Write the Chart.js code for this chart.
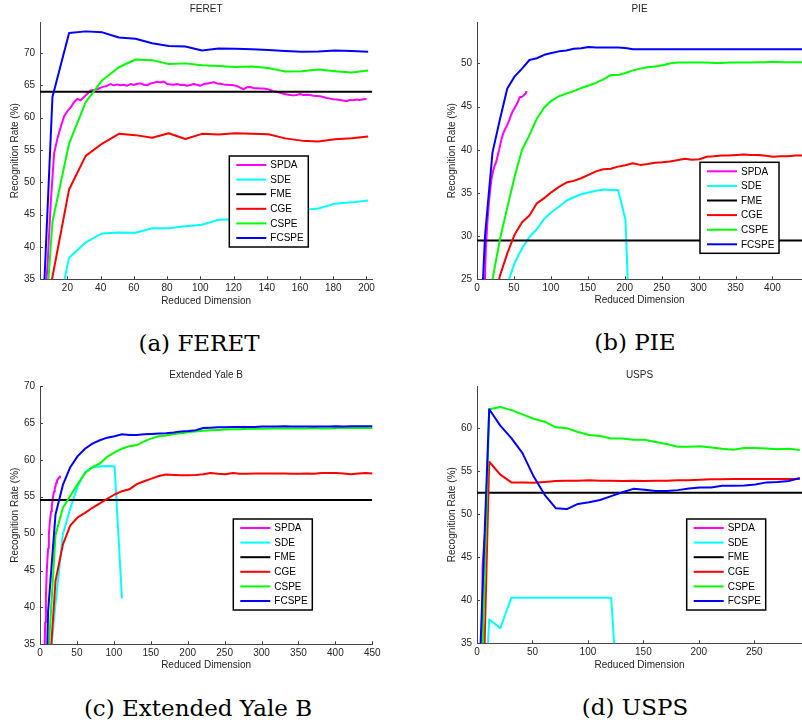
<!DOCTYPE html>
<html>
<head>
<meta charset="utf-8">
<title>Recognition rate vs. reduced dimension</title>
<script src="https://cdn.jsdelivr.net/npm/chart.js@4.4.0/dist/chart.umd.min.js"></script>
<style>
  body { margin: 0; background: #fff; width: 802px; height: 727px; position: relative; overflow: hidden; }
  canvas { position: absolute; }
  .cap { position: absolute; width: 300px; text-align: center; font-family: "DejaVu Serif", serif; font-size: 23px; line-height: 30px; color: #000; }
</style>
</head>
<body>
<canvas id="feret" width="400" height="310" style="left:0px;top:0px"></canvas>
<canvas id="pie" width="365" height="310" style="left:437px;top:0px"></canvas>
<canvas id="yale" width="400" height="311" style="left:0px;top:364px"></canvas>
<canvas id="usps" width="365" height="310" style="left:437px;top:364px"></canvas>
<div class="cap" style="left:49px;top:328px">(a) FERET</div>
<div class="cap" style="left:485px;top:327px">(b) PIE</div>
<div class="cap" style="left:48px;top:693px">(c) Extended Yale B</div>
<div class="cap" style="left:485px;top:692px">(d) USPS</div>
<script>
// ---- FERET ----
const feretDims = [1, 11, 21, 31, 41, 51, 61, 71, 81, 91, 101, 111, 121, 131, 141, 151, 161, 171, 181, 191, 201];
const feretFCSPE = [4.5, 63.2, 73.1, 73.35, 73.2, 72.4, 72.2, 71.5, 71.1, 71.0, 70.4, 70.7, 70.65, 70.6, 70.45, 70.3, 70.2, 70.25, 70.4, 70.3, 70.2];
const feretCSPE = [6.9, 43.9, 56.0, 62.4, 65.8, 67.8, 69.0, 68.9, 68.3, 68.4, 68.1, 68.0, 67.85, 67.9, 67.7, 67.15, 67.2, 67.45, 67.2, 67.0, 67.3];
const feretCGE = [20, 35.4, 48.9, 54.1, 56.0, 57.5, 57.3, 56.9, 57.6, 56.7, 57.5, 57.4, 57.6, 57.5, 57.45, 56.8, 56.45, 56.3, 56.65, 56.8, 57.1];
const feretSDE = [22, 26, 38.35, 40.7, 42.1, 42.25, 42.2, 42.9, 42.9, 43.2, 43.45, 44.2, 44.3, 44.6, 45.0, 45.35, 45.7, 45.95, 46.7, 46.9, 47.2];
const feretFME = 64.0;
const feretSPDADims = [
  6, 8, 10, 12, 14, 16, 18, 20, 22, 24,
  26, 28, 30, 32, 34, 36, 38, 40, 42, 44,
  46, 48, 50, 52, 54, 56, 58, 60, 62, 64,
  66, 68, 70, 72, 74, 76, 78, 80, 82, 84,
  86, 88, 90, 92, 94, 96, 98, 100, 102, 104,
  106, 108, 110, 112, 114, 116, 118, 120, 122, 124,
  126, 128, 130, 132, 134, 136, 138, 140, 142, 144,
  146, 148, 150, 152, 154, 156, 158, 160, 162, 164,
  166, 168, 170, 172, 174, 176, 178, 180, 182, 184,
  186, 188, 190, 192, 194, 196, 198, 200
];
const feretSPDA = [
  30.0, 37.0, 47.0, 54.5, 56.8, 58.6, 60.2, 61.0, 61.6, 62.4,
  62.9, 62.7, 63.2, 63.7, 64.2, 64.3, 64.4, 64.65, 64.8, 64.95,
  65.2, 65.0, 65.15, 65.0, 65.1, 64.95, 65.2, 65.05, 65.25, 65.3,
  65.1, 65.0, 65.3, 65.4, 65.55, 65.45, 65.6, 65.2, 65.15, 65.1,
  65.2, 65.05, 65.1, 64.95, 65.05, 65.2, 65.1, 64.95, 65.2, 65.3,
  65.35, 65.5, 65.3, 65.25, 65.15, 65.1, 65.05, 65.0, 64.9, 64.65,
  64.4, 64.7, 64.75, 64.6, 64.55, 64.5, 64.5, 64.45, 64.3, 64.1,
  64.0, 63.85, 63.7, 63.6, 63.5, 63.45, 63.5, 63.65, 63.5, 63.55,
  63.5, 63.4, 63.35, 63.3, 63.2, 63.05, 62.95, 62.85, 62.8, 62.75,
  62.65, 62.55, 62.75, 62.7, 62.8, 62.75, 62.85, 62.9
];
const feretXRange = [3.5, 203.5];
const feretYRange = [35, 74.8];
const feretXTicks = [20, 40, 60, 80, 100, 120, 140, 160, 180, 200];
const feretYTicks = [35, 40, 45, 50, 55, 60, 65, 70];

// ---- PIE ----
const pieDims = [1, 11, 21, 31, 41, 51, 61, 71, 81, 91, 101, 111, 121, 131, 141, 151, 161, 171, 181, 191,
  201, 211, 221, 231, 241, 251, 261, 271, 281, 291, 301, 311, 321, 331, 341, 351, 361, 371, 381, 391,
  401, 411, 421, 431, 441];
const pieFCSPE = [12.2, 30.2, 39.7, 43.5, 47.1, 48.5, 49.4, 50.4, 50.6, 51.0,
  51.2, 51.4, 51.5, 51.7, 51.75, 51.9, 51.85, 51.85, 51.85, 51.85,
  51.8, 51.65, 51.65, 51.65, 51.65, 51.65, 51.65, 51.65, 51.65, 51.65,
  51.65, 51.65, 51.65, 51.65, 51.65, 51.65, 51.65, 51.65, 51.65, 51.65,
  51.65, 51.65, 51.65, 51.65, 51.65];
const pieCSPE = [5, 20.5, 25.0, 29.6, 33.3, 36.9, 40.0, 41.7, 43.6, 44.9,
  45.7, 46.2, 46.5, 46.8, 47.15, 47.45, 47.75, 48.15, 48.65, 48.65,
  48.9, 49.2, 49.4, 49.55, 49.65, 49.8, 50.0, 50.1, 50.1, 50.1,
  50.1, 50.1, 50.05, 50.05, 50.1, 50.1, 50.1, 50.1, 50.15, 50.15,
  50.2, 50.15, 50.15, 50.15, 50.15];
const pieCGE = [15, 18, 21.5, 25.4, 28.0, 30.2, 31.6, 32.4, 33.8, 34.4,
  35.1, 35.7, 36.2, 36.4, 36.7, 37.1, 37.5, 37.75, 37.8, 38.05,
  38.2, 38.45, 38.25, 38.35, 38.5, 38.55, 38.65, 38.8, 38.95, 38.85,
  38.9, 39.2, 39.25, 39.35, 39.35, 39.4, 39.45, 39.4, 39.4, 39.3,
  39.2, 39.25, 39.25, 39.35, 39.35];
const pieSDE = [12, 15, 18, 21.5, 24.4, 26.9, 28.6, 29.9, 30.8, 32.0,
  32.8, 33.4, 34.1, 34.5, 34.85, 35.05, 35.25, 35.4, 35.35, 35.35,
  31.9, 9];
const pieFME = 29.5;
const pieSPDADims = [10, 12, 14, 16, 18, 20, 22, 24, 26, 28, 30, 32, 34, 36, 38, 40, 42, 44, 46, 48,
  50, 52, 54, 56, 58, 60, 62, 64, 66, 67];
const pieSPDA = [23, 28.5, 31.5, 33.8, 35.5, 36.8, 37.6, 38.2, 38.6, 39.3, 40.0, 40.8, 41.5, 42.0, 42.4, 42.7, 43.1, 43.5, 44.0, 44.4,
  44.7, 45.0, 45.3, 45.7, 46.1, 46.1, 46.2, 46.4, 46.5, 46.8];
const pieXRange = [0, 440];
const pieYRange = [25, 54.8];
const pieXTicks = [0, 50, 100, 150, 200, 250, 300, 350, 400];
const pieYTicks = [25, 30, 35, 40, 45, 50];

// ---- Extended Yale B ----
const yaleDims = [1, 11, 21, 31, 41, 51, 61, 71, 81, 91, 101, 111, 121, 131, 141, 151, 161, 171, 181, 191,
  201, 211, 221, 231, 241, 251, 261, 271, 281, 291, 301, 311, 321, 331, 341, 351, 361, 371, 381, 391,
  401, 411, 421, 431, 441, 451];
const yaleFCSPE = [0, 39.5, 52.6, 56.6, 59.0, 60.5, 61.5, 62.2, 62.65, 63.0,
  63.2, 63.45, 63.35, 63.35, 63.45, 63.5, 63.55, 63.6, 63.7, 63.85,
  63.9, 64.0, 64.3, 64.35, 64.4, 64.4, 64.45, 64.45, 64.45, 64.45,
  64.5, 64.5, 64.5, 64.55, 64.5, 64.5, 64.5, 64.5, 64.5, 64.5,
  64.55, 64.5, 64.55, 64.55, 64.55, 64.55];
const yaleCSPE = [10, 33, 49.8, 53.5, 55.1, 56.7, 58.2, 59.0, 59.5, 60.4,
  61.0, 61.5, 61.85, 62.0, 62.5, 62.9, 63.2, 63.3, 63.5, 63.6,
  63.75, 63.85, 63.95, 64.0, 64.05, 64.1, 64.15, 64.15, 64.2, 64.2,
  64.2, 64.25, 64.25, 64.25, 64.25, 64.25, 64.25, 64.3, 64.25, 64.25,
  64.3, 64.3, 64.3, 64.3, 64.3, 64.3];
const yaleCGE = [10, 28.5, 43.6, 48.5, 51.1, 52.2, 52.8, 53.5, 54.1, 54.7,
  55.3, 55.75, 56.0, 56.7, 57.1, 57.45, 57.8, 58.0, 57.95, 57.9,
  57.9, 57.95, 58.05, 58.2, 58.1, 58.05, 58.2, 58.1, 58.1, 58.15,
  58.15, 58.15, 58.15, 58.15, 58.1, 58.1, 58.15, 58.1, 58.2, 58.2,
  58.2, 58.15, 58.05, 58.15, 58.2, 58.15];
const yaleSDE = [10, 30, 40.5, 49.9, 53.4, 56.4, 58.3, 59.0, 59.1, 59.15, 59.1, 41.2];
const yaleFME = 54.55;
const yaleSPDADims = [6, 7, 8, 9, 10, 11, 12, 13, 14, 15, 16, 17, 18, 19, 20, 21, 22, 23, 24, 25, 26, 27, 28];
const yaleSPDA = [33, 38, 41.5, 44.5, 46.5, 48, 49.8, 51.2, 52.2, 53.0, 53.8, 54.5, 55.2, 55.7, 56.1, 56.4, 56.9, 57.2, 57.3, 57.5, 57.6, 57.75, 57.7];
const yaleXRange = [0, 450];
const yaleYRange = [35, 70];
const yaleXTicks = [0, 50, 100, 150, 200, 250, 300, 350, 400, 450];
const yaleYTicks = [35, 40, 45, 50, 55, 60, 65, 70];

// ---- USPS ----
const uspsDims = [1, 11, 21, 31, 41, 51, 61, 71, 81, 91, 101, 111, 121, 131, 141, 151, 161, 171, 181, 191,
  201, 211, 221, 231, 241, 251, 261, 271, 281, 291];
const uspsFCSPE = [27, 62.2, 60.3, 58.85, 57.1, 54.4, 52.25, 50.7, 50.6, 51.2,
  51.4, 51.65, 52.1, 52.55, 52.95, 52.85, 52.7, 52.7, 52.8, 53.0,
  53.1, 53.1, 53.3, 53.3, 53.35, 53.45, 53.7, 53.75, 53.85, 54.2];
const uspsCSPE = [14, 62.2, 62.45, 62.1, 61.6, 61.1, 60.75, 60.1, 60.0, 59.55,
  59.2, 59.1, 58.8, 58.8, 58.65, 58.65, 58.4, 58.15, 57.85, 57.85,
  57.9, 57.75, 57.6, 57.5, 57.7, 57.7, 57.65, 57.55, 57.6, 57.45];
const uspsCGE = [5, 56.1, 54.6, 53.7, 53.7, 53.65, 53.75, 53.85, 53.9, 53.9,
  53.95, 53.9, 53.9, 53.85, 53.9, 53.85, 53.9, 53.9, 53.95, 53.95,
  54.0, 54.05, 54.05, 54.1, 54.1, 54.1, 54.1, 54.1, 54.1, 54.1];
const uspsSDE = [13, 37.8, 36.75, 40.3, 40.3, 40.3, 40.3, 40.3, 40.3, 40.3, 40.3, 40.3, 40.3, 20];
const uspsFME = 52.5;
const uspsSPDADims = [4, 5, 6, 7, 8, 9, 10];
const uspsSPDA = [15, 44, 45.8, 47.5, 49, 50.3, 51.2];
const uspsXRange = [0, 293];
const uspsYRange = [35, 64.9];
const uspsXTicks = [0, 50, 100, 150, 200, 250];
const uspsYTicks = [35, 40, 45, 50, 55, 60];

const lineColors = { SPDA: '#ff00ff', SDE: '#00ffff', FME: '#000000', CGE: '#ff0000', CSPE: '#00ff00', FCSPE: '#0000ff' };
const axisColor = '#444';
const textColor = '#262626';

Chart.defaults.font.family = '"Liberation Sans", Arial, Helvetica, sans-serif';
Chart.defaults.font.size = 10;
Chart.defaults.color = textColor;

function zip(xs, ys) {
  return ys.map((y, i) => ({ x: xs[i], y: y }));
}

// boxed legend sitting inside the plot, MATLAB style
const boxLegend = {
  id: 'boxLegend',
  afterDraw(chart, args, opts) {
    const ctx = chart.ctx;
    const x0 = opts.left, y0 = opts.top, w = 79, h = 91, rowH = 14.6;
    ctx.save();
    ctx.fillStyle = '#fff';
    ctx.fillRect(x0, y0, w, h);
    ctx.strokeStyle = '#000';
    ctx.lineWidth = 1.5;
    ctx.strokeRect(x0, y0, w, h);
    ctx.font = '10px "Liberation Sans", Arial, sans-serif';
    ctx.textBaseline = 'middle';
    ctx.textAlign = 'left';
    chart.data.datasets.forEach((ds, i) => {
      const y = y0 + 9 + i * rowH;
      ctx.strokeStyle = ds.borderColor;
      ctx.lineWidth = 2;
      ctx.beginPath();
      ctx.moveTo(x0 + 7, y);
      ctx.lineTo(x0 + 37, y);
      ctx.stroke();
      ctx.fillStyle = '#000';
      ctx.fillText(ds.label, x0 + 41, y + 0.5);
    });
    ctx.restore();
  }
};

// small tick marks pointing into the plot
const inTicks = {
  id: 'inTicks',
  afterDatasetsDraw(chart) {
    const { ctx, chartArea: a, scales: { x, y } } = chart;
    ctx.save();
    ctx.strokeStyle = axisColor;
    ctx.lineWidth = 1;
    ctx.beginPath();
    x.ticks.forEach(t => {
      const p = Math.round(x.getPixelForValue(t.value)) + 0.5;
      ctx.moveTo(p, a.bottom);
      ctx.lineTo(p, a.bottom - 3);
    });
    y.ticks.forEach(t => {
      const p = Math.round(y.getPixelForValue(t.value)) + 0.5;
      ctx.moveTo(a.left, p);
      ctx.lineTo(a.left + 3, p);
    });
    ctx.stroke();
    ctx.restore();
  }
};

function buildDatasets(p) {
  const rows = [
    ['SPDA', zip(p.spdaDims, p.spda)],
    ['SDE', zip(p.dims, p.sde)],
    ['FME', [{ x: p.xRange[0], y: p.fme }, { x: p.xRange[1], y: p.fme }]],
    ['CGE', zip(p.dims, p.cge)],
    ['CSPE', zip(p.dims, p.cspe)],
    ['FCSPE', zip(p.dims, p.fcspe)]
  ];
  return rows.map(([label, data], i) => ({
    label: label,
    data: data,
    borderColor: lineColors[label],
    backgroundColor: lineColors[label],
    borderWidth: 2,
    borderJoinStyle: 'round',
    pointRadius: 0,
    tension: 0,
    fill: false,
    order: rows.length - i
  }));
}

function makeChart(p) {
  return new Chart(document.getElementById(p.id), {
    type: 'line',
    data: { datasets: buildDatasets(p) },
    options: {
      responsive: false,
      animation: false,
      devicePixelRatio: 1,
      layout: { padding: { left: 0, right: p.padRight, top: 0, bottom: 0 } },
      plugins: {
        legend: { display: false },
        tooltip: { enabled: false },
        title: {
          display: true, text: p.title, fullSize: false, color: textColor,
          font: { size: 10, weight: 'normal' }, padding: p.titlePad
        },
        boxLegend: p.legend
      },
      scales: {
        x: {
          type: 'linear', min: p.xRange[0], max: p.xRange[1],
          afterBuildTicks: s => { s.ticks = p.xTicks.map(v => ({ value: v })); },
          afterFit: s => { s.height = 30.7; },
          grid: { display: false, drawTicks: false },
          border: { display: true, color: axisColor, width: 1 },
          ticks: { padding: 3, autoSkip: false, maxRotation: 0, color: textColor },
          title: { display: true, text: 'Reduced Dimension', color: textColor, font: { size: 10 }, padding: { top: 0, bottom: p.xTitlePad } }
        },
        y: {
          type: 'linear', min: p.yRange[0], max: p.yRange[1],
          afterBuildTicks: s => { s.ticks = p.yTicks.map(v => ({ value: v })); },
          afterFit: s => { s.width = 40; },
          grid: { display: false, drawTicks: false },
          border: { display: true, color: axisColor, width: 1 },
          ticks: { padding: 5, autoSkip: false, color: textColor },
          title: { display: true, text: 'Recognition Rate (%)', color: textColor, font: { size: 10 }, padding: { top: 9, bottom: 0 } }
        }
      }
    },
    plugins: [inTicks, boxLegend]
  });
}

const panels = [
  { id: 'feret', title: 'FERET', dims: feretDims, spdaDims: feretSPDADims, spda: feretSPDA, sde: feretSDE, fme: feretFME,
    cge: feretCGE, cspe: feretCSPE, fcspe: feretFCSPE, xRange: feretXRange, yRange: feretYRange,
    xTicks: feretXTicks, yTicks: feretYTicks,
    padRight: 27.7, titlePad: { top: 3, bottom: 7 }, xTitlePad: 2.3, legend: { left: 229.3, top: 156 } },
  { id: 'pie', title: 'PIE', dims: pieDims, spdaDims: pieSPDADims, spda: pieSPDA, sde: pieSDE, fme: pieFME,
    cge: pieCGE, cspe: pieCSPE, fcspe: pieFCSPE, xRange: pieXRange, yRange: pieYRange,
    xTicks: pieXTicks, yTicks: pieYTicks,
    padRight: 0, titlePad: { top: 3, bottom: 7 }, xTitlePad: 3.3, legend: { left: 263, top: 162.3 } },
  { id: 'yale', title: 'Extended Yale B', dims: yaleDims, spdaDims: yaleSPDADims, spda: yaleSPDA, sde: yaleSDE, fme: yaleFME,
    cge: yaleCGE, cspe: yaleCSPE, fcspe: yaleFCSPE, xRange: yaleXRange, yRange: yaleYRange,
    xTicks: yaleXTicks, yTicks: yaleYTicks,
    padRight: 27.7, titlePad: { top: 5, bottom: 5 }, xTitlePad: 3.3, legend: { left: 233.3, top: 155 } },
  { id: 'usps', title: 'USPS', dims: uspsDims, spdaDims: uspsSPDADims, spda: uspsSPDA, sde: uspsSDE, fme: uspsFME,
    cge: uspsCGE, cspe: uspsCSPE, fcspe: uspsFCSPE, xRange: uspsXRange, yRange: uspsYRange,
    xTicks: uspsXTicks, yTicks: uspsYTicks,
    padRight: 0, titlePad: { top: 5, bottom: 5 }, xTitlePad: 2.3, legend: { left: 249.7, top: 155 } }
];

panels.forEach(makeChart);
</script>
</body>
</html>
